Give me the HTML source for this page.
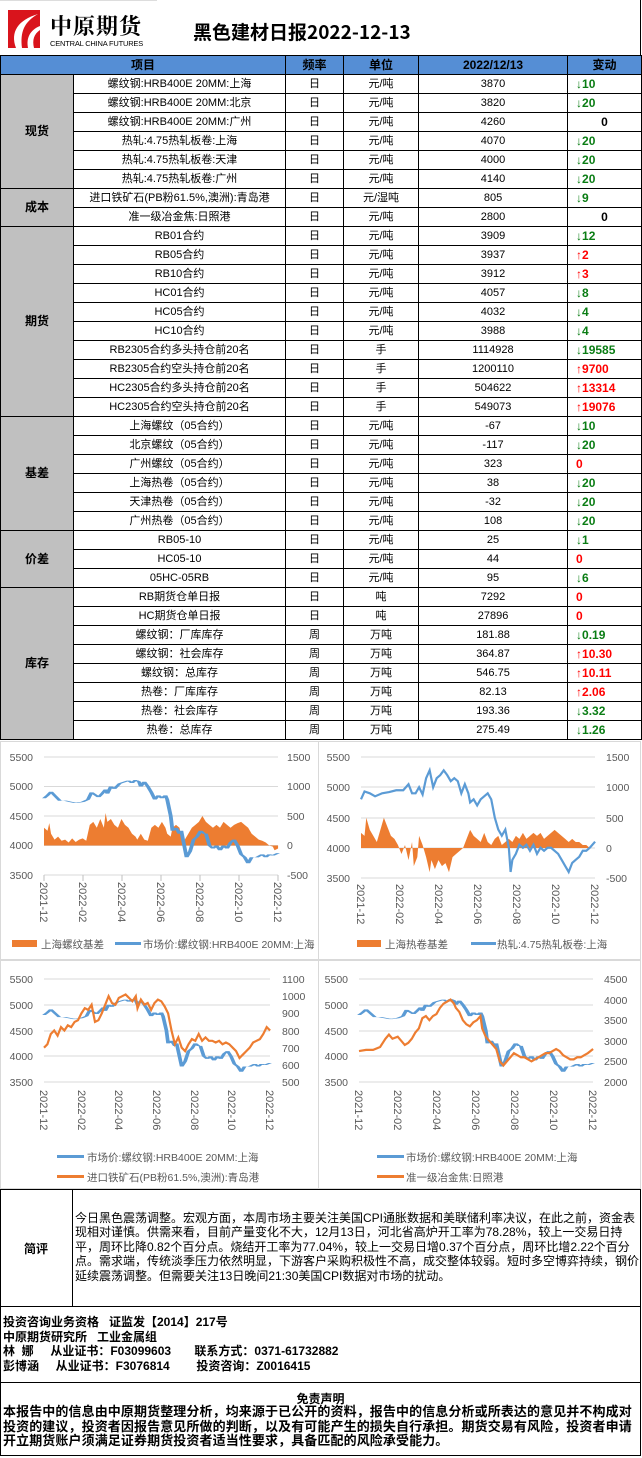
<!DOCTYPE html>
<html><head><meta charset="utf-8"><style>
*{margin:0;padding:0;box-sizing:border-box}
body{width:642px;height:1458px;background:#fff;position:relative;overflow:hidden;font-family:"Liberation Sans","Noto Sans CJK SC",sans-serif;color:#000}
.abs{position:absolute}
table{position:absolute;left:0;top:55px;width:641px;border-collapse:collapse;table-layout:fixed;font-size:11px}
td,th{border:1px solid #000;text-align:center;padding:0;white-space:nowrap;overflow:hidden;line-height:15px}
th{background:#558ED5;font-weight:bold;font-size:12px;height:19px}
td{height:19px}
td.c{background:#C0C0C0;font-weight:bold;font-size:12px}
td.ch{text-align:left;padding-left:8px;font-weight:bold;font-size:12px}
.g{color:#0a7d14}.r{color:#f00}
td.z{text-align:center;padding-left:0}
svg text{font-family:"Liberation Sans","Noto Sans CJK SC",sans-serif}
</style></head><body>
<!-- logo -->
<div class="abs" style="left:8px;top:10px;width:32px;height:38px;background:#d9141c;overflow:hidden">
<svg width="32" height="38"><path d="M8 38 C2 22 10 10 30 4 C16 12 12 22 14 38Z" fill="#fff"/><path d="M20 38 C18 28 22 20 32 16 L32 20 C26 24 24 30 26 38Z" fill="#fff"/></svg></div>
<div class="abs" style="left:50px;top:10px;font-size:22px;font-weight:bold;letter-spacing:1px;font-family:'Noto Serif CJK SC',serif">中原期货</div>
<div class="abs" style="left:50px;top:39px;font-size:7.5px;letter-spacing:-0.2px">CENTRAL CHINA FUTURES</div>
<div class="abs" style="left:193px;top:18px;font-size:19px;font-weight:bold;font-family:'Noto Sans CJK SC',sans-serif">黑色建材日报2022-12-13</div>
<div class="abs" style="left:0;top:0;width:157px;height:1px;background:#ddd"></div>
<div class="abs" style="left:640px;top:0;width:1px;height:56px;background:#000"></div>

<table>
<colgroup><col style="width:73px"><col style="width:212px"><col style="width:58px"><col style="width:75px"><col style="width:149px"><col style="width:74px"></colgroup>
<tr><th colspan="2">项目</th><th>频率</th><th>单位</th><th>2022/12/13</th><th>变动</th></tr>
<tr><td class="c" rowspan="6">现货</td><td>螺纹钢:HRB400E 20MM:上海</td><td>日</td><td>元/吨</td><td>3870</td><td class="ch g">↓10</td></tr>
<tr><td>螺纹钢:HRB400E 20MM:北京</td><td>日</td><td>元/吨</td><td>3820</td><td class="ch g">↓20</td></tr>
<tr><td>螺纹钢:HRB400E 20MM:广州</td><td>日</td><td>元/吨</td><td>4260</td><td class="ch z">0</td></tr>
<tr><td>热轧:4.75热轧板卷:上海</td><td>日</td><td>元/吨</td><td>4070</td><td class="ch g">↓20</td></tr>
<tr><td>热轧:4.75热轧板卷:天津</td><td>日</td><td>元/吨</td><td>4000</td><td class="ch g">↓20</td></tr>
<tr><td>热轧:4.75热轧板卷:广州</td><td>日</td><td>元/吨</td><td>4140</td><td class="ch g">↓20</td></tr>
<tr><td class="c" rowspan="2">成本</td><td>进口铁矿石(PB粉61.5%,澳洲):青岛港</td><td>日</td><td>元/湿吨</td><td>805</td><td class="ch g">↓9</td></tr>
<tr><td>准一级冶金焦:日照港</td><td>日</td><td>元/吨</td><td>2800</td><td class="ch z">0</td></tr>
<tr><td class="c" rowspan="10">期货</td><td>RB01合约</td><td>日</td><td>元/吨</td><td>3909</td><td class="ch g">↓12</td></tr>
<tr><td>RB05合约</td><td>日</td><td>元/吨</td><td>3937</td><td class="ch r">↑2</td></tr>
<tr><td>RB10合约</td><td>日</td><td>元/吨</td><td>3912</td><td class="ch r">↑3</td></tr>
<tr><td>HC01合约</td><td>日</td><td>元/吨</td><td>4057</td><td class="ch g">↓8</td></tr>
<tr><td>HC05合约</td><td>日</td><td>元/吨</td><td>4032</td><td class="ch g">↓4</td></tr>
<tr><td>HC10合约</td><td>日</td><td>元/吨</td><td>3988</td><td class="ch g">↓4</td></tr>
<tr><td>RB2305合约多头持仓前20名</td><td>日</td><td>手</td><td>1114928</td><td class="ch g">↓19585</td></tr>
<tr><td>RB2305合约空头持仓前20名</td><td>日</td><td>手</td><td>1200110</td><td class="ch r">↑9700</td></tr>
<tr><td>HC2305合约多头持仓前20名</td><td>日</td><td>手</td><td>504622</td><td class="ch r">↑13314</td></tr>
<tr><td>HC2305合约空头持仓前20名</td><td>日</td><td>手</td><td>549073</td><td class="ch r">↑19076</td></tr>
<tr><td class="c" rowspan="6">基差</td><td>上海螺纹（05合约）</td><td>日</td><td>元/吨</td><td>-67</td><td class="ch g">↓10</td></tr>
<tr><td>北京螺纹（05合约）</td><td>日</td><td>元/吨</td><td>-117</td><td class="ch g">↓20</td></tr>
<tr><td>广州螺纹（05合约）</td><td>日</td><td>元/吨</td><td>323</td><td class="ch r">0</td></tr>
<tr><td>上海热卷（05合约）</td><td>日</td><td>元/吨</td><td>38</td><td class="ch g">↓20</td></tr>
<tr><td>天津热卷（05合约）</td><td>日</td><td>元/吨</td><td>-32</td><td class="ch g">↓20</td></tr>
<tr><td>广州热卷（05合约）</td><td>日</td><td>元/吨</td><td>108</td><td class="ch g">↓20</td></tr>
<tr><td class="c" rowspan="3">价差</td><td>RB05-10</td><td>日</td><td>元/吨</td><td>25</td><td class="ch g">↓1</td></tr>
<tr><td>HC05-10</td><td>日</td><td>元/吨</td><td>44</td><td class="ch r">0</td></tr>
<tr><td>05HC-05RB</td><td>日</td><td>元/吨</td><td>95</td><td class="ch g">↓6</td></tr>
<tr><td class="c" rowspan="8">库存</td><td>RB期货仓单日报</td><td>日</td><td>吨</td><td>7292</td><td class="ch r">0</td></tr>
<tr><td>HC期货仓单日报</td><td>日</td><td>吨</td><td>27896</td><td class="ch r">0</td></tr>
<tr><td>螺纹钢：厂库库存</td><td>周</td><td>万吨</td><td>181.88</td><td class="ch g">↓0.19</td></tr>
<tr><td>螺纹钢：社会库存</td><td>周</td><td>万吨</td><td>364.87</td><td class="ch r">↑10.30</td></tr>
<tr><td>螺纹钢：总库存</td><td>周</td><td>万吨</td><td>546.75</td><td class="ch r">↑10.11</td></tr>
<tr><td>热卷：厂库库存</td><td>周</td><td>万吨</td><td>82.13</td><td class="ch r">↑2.06</td></tr>
<tr><td>热卷：社会库存</td><td>周</td><td>万吨</td><td>193.36</td><td class="ch g">↓3.32</td></tr>
<tr><td>热卷：总库存</td><td>周</td><td>万吨</td><td>275.49</td><td class="ch g">↓1.26</td></tr>
</table>

<svg class="abs" style="left:0;top:0" width="642" height="1458" font-size="10.5" fill="#595959">
<defs>
<polyline id="reb" points="0,4800 2,4850 4,4910 6,4850 9,4760 12,4760 15,4740 18,4720 22,4740 25,4780 27,4900 29,4860 31,4820 33,4880 35,4950 36,4880 38,5000 40,4960 43,5050 46,5080 48,5100 50,5060 52,5110 54,5080 55,5000 57,5080 59,5000 61,4900 63,4780 65,4850 67,4800 69,4850 70,4780 72,4500 73,4250 75,4300 77,4200 78,4250 80,3950 81,3800 83,3900 85,4100 87,4150 89,4250 91,4200 92,4200 94,4000 96,3950 98,4000 100,3920 102,4000 104,3950 106,4050 108,4100 110,4000 112,3850 114,3800 116,3700 118,3800 121,3800 124,3850 126,3800 128,3850 130,3830 133,3870" />
</defs>
<g stroke="#d9d9d9" fill="none">
<rect x="0.5" y="741.5" width="318" height="218"/><rect x="318.5" y="741.5" width="322" height="218"/>
<rect x="0.5" y="960.5" width="318" height="228"/><rect x="318.5" y="960.5" width="322" height="228"/>
<path d="M44 757H278M44 786.5H278M44 816H278M44 845.5H278M44 875H278"/>
<path d="M361 757H595M361 787H595M361 818H595M361 848H595M361 878H595"/>
<path d="M44 979H270M44 1005H270M44 1031H270M44 1056H270M44 1082H270"/>
<path d="M359 979H593M359 1005H593M359 1031H593M359 1056H593M359 1082H593"/>
</g>
<!-- chart1 -->
<g transform="translate(44,845.5) scale(1.76,-0.059)"><polygon fill="#ED7D31" points="0,0 0,300 2,250 3,380 4,200 6,100 8,150 10,80 12,100 14,50 16,120 18,60 20,100 22,120 23,100 24,80 26,350 28,400 30,300 32,450 34,300 35,550 36,400 38,450 40,350 42,300 44,450 46,350 48,300 50,200 52,150 53,100 55,200 57,100 59,80 61,300 63,350 65,300 67,400 69,300 70,200 72,150 73,300 75,350 77,300 78,150 80,100 82,200 84,300 86,350 88,400 90,500 92,400 94,350 96,300 98,350 100,300 102,400 104,350 106,300 108,350 110,380 112,400 114,350 116,300 118,200 120,150 122,100 124,80 126,50 128,0 130,-20 131,-80 133,-50 133,0"/></g>
<g transform="translate(44,757) scale(1.76,-0.059) translate(0,-5500)"><use href="#reb" fill="none" stroke="#5B9BD5" stroke-width="2.2" vector-effect="non-scaling-stroke"/></g>
<g text-anchor="end"><text x="33" y="761">5500</text><text x="33" y="790">5000</text><text x="33" y="820">4500</text><text x="33" y="849">4000</text><text x="33" y="879">3500</text></g>
<g><text x="287" y="761">1500</text><text x="287" y="790">1000</text><text x="287" y="820">500</text><text x="287" y="849">0</text><text x="287" y="879">-500</text></g>
<g stroke="#bfbfbf"><path d="M44 875V881M83 875V881M122 875V881M161 875V881M200 875V881M239 875V881M278 875V881"/></g>
<g font-size="11"><text transform="translate(40,882) rotate(90)">2021-12</text><text transform="translate(79,882) rotate(90)">2022-02</text><text transform="translate(118,882) rotate(90)">2022-04</text><text transform="translate(157,882) rotate(90)">2022-06</text><text transform="translate(196,882) rotate(90)">2022-08</text><text transform="translate(235,882) rotate(90)">2022-10</text><text transform="translate(274,882) rotate(90)">2022-12</text></g>
<rect x="12" y="940" width="25" height="7" fill="#ED7D31"/><text x="41" y="948">上海螺纹基差</text>
<rect x="115" y="942" width="26" height="3" fill="#5B9BD5"/><text x="143" y="948">市场价:螺纹钢:HRB400E 20MM:上海</text>
<!-- chart2 -->
<g transform="translate(361,848) scale(1.76,-0.0605)"><polygon fill="#ED7D31" points="0,0 0,250 2,200 3,500 5,300 7,200 9,100 11,300 13,500 15,350 17,200 19,150 21,50 23,-100 25,50 27,-200 29,100 30,-300 32,-150 33,200 35,50 37,-150 39,-400 40,-200 42,-350 44,-200 46,-300 48,-250 50,-400 52,-150 54,-100 56,-50 58,0 60,150 62,300 64,200 66,150 68,100 70,250 72,100 74,50 76,150 78,200 80,50 82,100 84,150 86,100 88,200 90,150 92,250 94,150 96,200 98,250 100,200 102,250 104,150 106,200 108,250 110,300 112,250 114,200 116,150 118,100 120,150 122,100 124,100 126,50 128,50 130,0 133,0"/></g>
<g transform="translate(361,757) scale(1.76,-0.0605) translate(0,-5500)"><polyline fill="none" stroke="#5B9BD5" stroke-width="2.2" vector-effect="non-scaling-stroke" points="0,4800 2,4930 5,4900 8,4850 12,4900 16,4920 20,4950 24,4950 27,5050 29,4900 31,4900 33,5000 35,4880 37,5150 39,5280 41,5000 43,5150 45,5200 47,5280 49,5200 51,5100 53,5150 55,5100 57,4900 59,5050 61,4900 62,4750 64,4800 66,4700 68,4800 70,4850 72,4900 74,4800 76,4500 78,4300 80,4200 82,4300 84,4000 85,3600 86,3800 88,3900 90,4050 92,4000 94,4050 96,3950 98,4050 100,3900 102,4000 104,3950 106,4000 108,4000 110,3950 112,3900 114,3800 116,3700 118,3600 120,3750 122,3800 124,3850 126,3950 128,3950 130,4000 133,4100"/></g>
<g text-anchor="end"><text x="350" y="761">5500</text><text x="350" y="791">5000</text><text x="350" y="822">4500</text><text x="350" y="852">4000</text><text x="350" y="882">3500</text></g>
<g><text x="606" y="761">1500</text><text x="606" y="791">1000</text><text x="606" y="822">500</text><text x="606" y="852">0</text><text x="606" y="882">-500</text></g>
<g font-size="11"><text transform="translate(357,884) rotate(90)">2021-12</text><text transform="translate(396,884) rotate(90)">2022-02</text><text transform="translate(435,884) rotate(90)">2022-04</text><text transform="translate(474,884) rotate(90)">2022-06</text><text transform="translate(513,884) rotate(90)">2022-08</text><text transform="translate(552,884) rotate(90)">2022-10</text><text transform="translate(591,884) rotate(90)">2022-12</text></g>
<rect x="357" y="940" width="24" height="7" fill="#ED7D31"/><text x="385" y="948">上海热卷基差</text>
<rect x="471" y="942" width="25" height="3" fill="#5B9BD5"/><text x="497" y="948">热轧:4.75热轧板卷:上海</text>
<!-- chart3 -->
<g transform="translate(44,979) scale(1.70,-0.0515) translate(0,-5500)"><use href="#reb" fill="none" stroke="#5B9BD5" stroke-width="2.2" vector-effect="non-scaling-stroke"/></g>
<g transform="translate(44,979) scale(1.70,-0.1717) translate(0,-1100)"><polyline fill="none" stroke="#ED7D31" stroke-width="2.2" vector-effect="non-scaling-stroke" points="0,700 2,720 4,780 6,800 8,770 10,820 12,800 14,830 16,820 18,850 20,860 22,900 24,930 26,920 28,950 30,850 32,860 34,900 36,950 38,1000 40,960 42,950 44,990 46,1000 48,1010 50,990 52,970 54,1000 55,930 57,980 59,950 61,960 63,920 65,960 67,980 69,970 71,940 73,900 75,800 77,720 79,760 81,700 83,680 85,720 87,750 89,740 91,780 93,740 95,760 97,740 99,740 101,730 103,740 105,720 107,730 109,720 111,700 113,680 115,640 117,660 119,680 121,700 123,730 125,740 127,750 129,780 131,820 133,800"/></g>
<g text-anchor="end"><text x="33" y="983">5500</text><text x="33" y="1009">5000</text><text x="33" y="1035">4500</text><text x="33" y="1060">4000</text><text x="33" y="1086">3500</text></g>
<g><text x="282" y="983">1100</text><text x="282" y="1000">1000</text><text x="282" y="1017">900</text><text x="282" y="1035">800</text><text x="282" y="1052">700</text><text x="282" y="1069">600</text><text x="282" y="1086">500</text></g>
<g font-size="11"><text transform="translate(40,1090) rotate(90)">2021-12</text><text transform="translate(78,1090) rotate(90)">2022-02</text><text transform="translate(115,1090) rotate(90)">2022-04</text><text transform="translate(153,1090) rotate(90)">2022-06</text><text transform="translate(191,1090) rotate(90)">2022-08</text><text transform="translate(228,1090) rotate(90)">2022-10</text><text transform="translate(266,1090) rotate(90)">2022-12</text></g>
<rect x="57" y="1155" width="27" height="3" fill="#5B9BD5"/><text x="87" y="1161">市场价:螺纹钢:HRB400E 20MM:上海</text>
<rect x="57" y="1175" width="27" height="3" fill="#ED7D31"/><text x="87" y="1181">进口铁矿石(PB粉61.5%,澳洲):青岛港</text>
<!-- chart4 -->
<g transform="translate(359,979) scale(1.76,-0.0515) translate(0,-5500)"><use href="#reb" fill="none" stroke="#5B9BD5" stroke-width="2.2" vector-effect="non-scaling-stroke"/></g>
<g transform="translate(359,979) scale(1.76,-0.0412) translate(0,-4500)"><polyline fill="none" stroke="#ED7D31" stroke-width="2.2" vector-effect="non-scaling-stroke" points="0,2750 4,2780 8,2780 12,2850 15,3050 17,3150 19,3050 22,3100 24,3000 26,2900 28,2950 30,3050 32,3200 34,3300 36,3550 38,3600 40,3500 42,3600 44,3650 46,3800 48,3900 50,3950 52,4000 54,3900 55,3800 57,3700 59,3500 61,3400 63,3350 65,3450 67,3500 69,3600 70,3300 72,3100 74,3000 76,2900 78,2800 80,2500 82,2400 84,2500 86,2600 88,2700 90,2650 92,2600 94,2600 96,2550 98,2500 100,2550 102,2600 104,2650 106,2700 108,2700 110,2750 112,2800 114,2750 116,2650 118,2600 120,2550 122,2550 124,2600 126,2600 128,2650 130,2700 133,2800"/></g>
<g text-anchor="end"><text x="348" y="983">5500</text><text x="348" y="1009">5000</text><text x="348" y="1035">4500</text><text x="348" y="1060">4000</text><text x="348" y="1086">3500</text></g>
<g><text x="604" y="983">4500</text><text x="604" y="1004">4000</text><text x="604" y="1024">3500</text><text x="604" y="1045">3000</text><text x="604" y="1065">2500</text><text x="604" y="1086">2000</text></g>
<g font-size="11"><text transform="translate(355,1090) rotate(90)">2021-12</text><text transform="translate(394,1090) rotate(90)">2022-02</text><text transform="translate(433,1090) rotate(90)">2022-04</text><text transform="translate(472,1090) rotate(90)">2022-06</text><text transform="translate(511,1090) rotate(90)">2022-08</text><text transform="translate(550,1090) rotate(90)">2022-10</text><text transform="translate(589,1090) rotate(90)">2022-12</text></g>
<rect x="377" y="1155" width="27" height="3" fill="#5B9BD5"/><text x="406" y="1161">市场价:螺纹钢:HRB400E 20MM:上海</text>
<rect x="377" y="1175" width="27" height="3" fill="#ED7D31"/><text x="406" y="1181">准一级冶金焦:日照港</text>
</svg>

<!-- comment -->
<div class="abs" style="left:0;top:1189px;width:641px;height:118px;border:1px solid #000"></div>
<div class="abs" style="left:72px;top:1189px;width:1px;height:118px;background:#000"></div>
<div class="abs" style="left:0;top:1240px;width:72px;text-align:center;font-size:12px;font-weight:bold">简评</div>
<div class="abs" style="left:75px;top:1211px;width:566px;font-size:12px;line-height:14.4px;letter-spacing:0px">今日黑色震荡调整。宏观方面，本周市场主要关注美国CPI通胀数据和美联储利率决议，在此之前，资金表现相对谨慎。供需来看，目前产量变化不大，12月13日，河北省高炉开工率为78.28%，较上一交易日持平，周环比降0.82个百分点。烧结开工率为77.04%，较上一交易日增0.37个百分点，周环比增2.22个百分点。需求端，传统淡季压力依然明显，下游客户采购积极性不高，成交整体较弱。短时多空博弈持续，钢价延续震荡调整。但需要关注13日晚间21:30美国CPI数据对市场的扰动。</div>
<!-- footer -->
<div class="abs" style="left:0;top:1306px;width:641px;height:150px;border:1px solid #000;border-top:none"></div>
<div class="abs" style="left:0;top:1382px;width:641px;height:1px;background:#000"></div>
<div class="abs" style="left:3px;top:1315px;font-size:12px;font-weight:bold;line-height:14.5px;white-space:pre">投资咨询业务资格   证监发【2014】217号
中原期货研究所   工业金属组
林  娜     从业证书：F03099603       联系方式：0371-61732882
彭博涵     从业证书：F3076814        投资咨询：Z0016415</div>
<div class="abs" style="left:0;top:1390px;width:641px;text-align:center;font-size:12px;font-weight:bold">免责声明</div>
<div class="abs" style="left:3px;top:1405px;width:637px;font-size:13px;font-weight:bold;line-height:14.6px;letter-spacing:0.1px">本报告中的信息由中原期货整理分析，均来源于已公开的资料，报告中的信息分析或所表达的意见并不构成对投资的建议，投资者因报告意见所做的判断，以及有可能产生的损失自行承担。期货交易有风险，投资者申请开立期货账户须满足证券期货投资者适当性要求，具备匹配的风险承受能力。</div>
</body></html>
